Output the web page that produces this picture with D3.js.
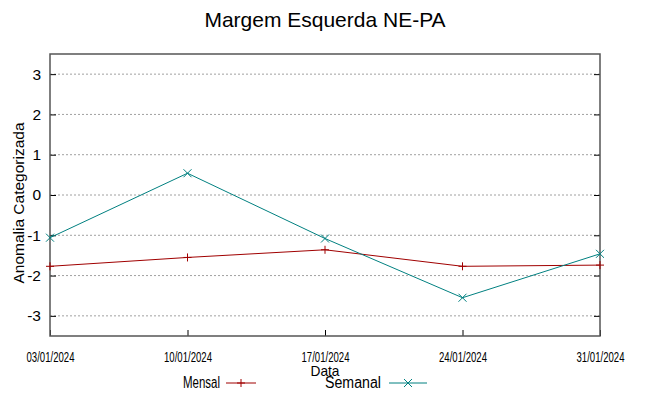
<!DOCTYPE html>
<html>
<head>
<meta charset="utf-8">
<script src="https://cdn.jsdelivr.net/npm/d3@7"></script>
<style>
  body { margin: 0; background: #fff; }
  text { font-family: "Liberation Sans", Arial, sans-serif; fill: #000; }
</style>
</head>
<body>
<svg id="chart" width="649" height="396"></svg>
<script>
"use strict";

// weekly dates shown on the x axis
var dates = ["03/01/2024", "10/01/2024", "17/01/2024", "24/01/2024", "31/01/2024"];
var mensal = [-1.77, -1.55, -1.36, -1.77, -1.74];
var semanal = [-1.06, 0.54, -1.08, -2.55, -1.46];
var yTicks = [-3, -2, -1, 0, 1, 2, 3];

var parseDate = d3.timeParse("%d/%m/%Y");
var fmtDate = d3.timeFormat("%d/%m/%Y");

var svg = d3.select("#chart");
var plotLeft = 50, plotRight = 600, plotTop = 54, plotBottom = 336;

var x = d3.scaleTime()
    .domain([parseDate(dates[0]), parseDate(dates[dates.length - 1])])
    .range([plotLeft, plotRight]);
var y = d3.scaleLinear().domain([-3.5, 3.5]).range([plotBottom, plotTop]);

// grid
svg.append("g").selectAll("line")
    .data(yTicks)
    .enter().append("line")
    .attr("x1", plotLeft).attr("x2", plotRight)
    .attr("y1", function (d) { return y(d); })
    .attr("y2", function (d) { return y(d); })
    .attr("stroke", "#a0a0a0")
    .attr("stroke-width", 1)
    .attr("stroke-dasharray", "2,2");

// axes: ticks inward
var yAxisL = d3.axisLeft(y).tickValues(yTicks).tickSize(-6).tickPadding(9)
    .tickFormat(function (d) { return String(d); });
var yAxisR = d3.axisRight(y).tickValues(yTicks).tickSize(-6).tickFormat("");
var xAxis = d3.axisBottom(x).tickValues(dates.map(parseDate)).tickSize(-6)
    .tickFormat(fmtDate).tickPadding(16);

function styleAxis(g) {
    g.select(".domain").remove();
    g.selectAll(".tick line").attr("stroke", "#000");
}

svg.append("g").attr("transform", "translate(" + plotLeft + ",0)").call(yAxisL).call(styleAxis)
    .selectAll("text").attr("font-size", 15.5).attr("font-family", "Liberation Sans, Arial, sans-serif");
svg.append("g").attr("transform", "translate(" + plotRight + ",0)").call(yAxisR).call(styleAxis);
var xg = svg.append("g").attr("transform", "translate(0," + plotBottom + ")").call(xAxis).call(styleAxis);
xg.selectAll("text")
    .attr("font-size", 14)
    .attr("font-family", "Liberation Sans, Arial, sans-serif")
    .attr("textLength", 48)
    .attr("lengthAdjust", "spacingAndGlyphs");

// border
svg.append("rect")
    .attr("x", plotLeft).attr("y", plotTop)
    .attr("width", plotRight - plotLeft).attr("height", plotBottom - plotTop)
    .attr("fill", "none")
    .attr("stroke", "#555")
    .attr("stroke-width", 1.5);

var series = [
    { name: "Mensal", values: mensal, color: "#a00000", marker: "plus" },
    { name: "Semanal", values: semanal, color: "#008080", marker: "cross" }
];

var line = d3.line()
    .x(function (d) { return x(parseDate(d.date)); })
    .y(function (d) { return y(d.value); });

function marker(g, type, cx, cy, color) {
    var s = 4;
    if (type === "plus") {
        g.append("path").attr("d", "M" + (cx - s) + "," + cy + "H" + (cx + s) + "M" + cx + "," + (cy - s) + "V" + (cy + s))
            .attr("stroke", color).attr("stroke-width", 1);
    } else {
        g.append("path").attr("d", "M" + (cx - s) + "," + (cy - s) + "L" + (cx + s) + "," + (cy + s) +
            "M" + (cx - s) + "," + (cy + s) + "L" + (cx + s) + "," + (cy - s))
            .attr("stroke", color).attr("stroke-width", 1);
    }
}

series.forEach(function (s) {
    var pts = dates.map(function (d, i) { return { date: d, value: s.values[i] }; });
    var g = svg.append("g");
    g.append("path").datum(pts)
        .attr("d", line)
        .attr("fill", "none")
        .attr("stroke", s.color)
        .attr("stroke-width", 1);
    pts.forEach(function (p) {
        marker(g, s.marker, x(parseDate(p.date)), y(p.value), s.color);
    });
});

// title and labels
svg.append("text")
    .attr("x", 325).attr("y", 27)
    .attr("text-anchor", "middle")
    .attr("font-size", 21)
    .text("Margem Esquerda NE-PA");

svg.append("text")
    .attr("transform", "translate(24,203) rotate(-90)")
    .attr("text-anchor", "middle")
    .attr("font-size", 15.5)
    .text("Anomalia Categorizada");

svg.append("text")
    .attr("x", 325).attr("y", 376)
    .attr("text-anchor", "middle")
    .attr("font-size", 15)
    .attr("textLength", 29)
    .attr("lengthAdjust", "spacingAndGlyphs")
    .text("Data");

// legend
var legend = [
    { name: "Mensal", tx: 220, tw: 37, x1: 226, x2: 256 },
    { name: "Semanal", tx: 381, tw: 56, x1: 389, x2: 427 }
];
legend.forEach(function (l, i) {
    var s = series[i];
    svg.append("text")
        .attr("x", l.tx - l.tw).attr("y", 388)
        .attr("font-size", 16)
        .attr("textLength", l.tw)
        .attr("lengthAdjust", "spacingAndGlyphs")
        .text(l.name);
    svg.append("line")
        .attr("x1", l.x1).attr("x2", l.x2)
        .attr("y1", 383).attr("y2", 383)
        .attr("stroke", s.color).attr("stroke-width", 1);
    marker(svg, s.marker, (l.x1 + l.x2) / 2, 383, s.color);
});
</script>
</body>
</html>
